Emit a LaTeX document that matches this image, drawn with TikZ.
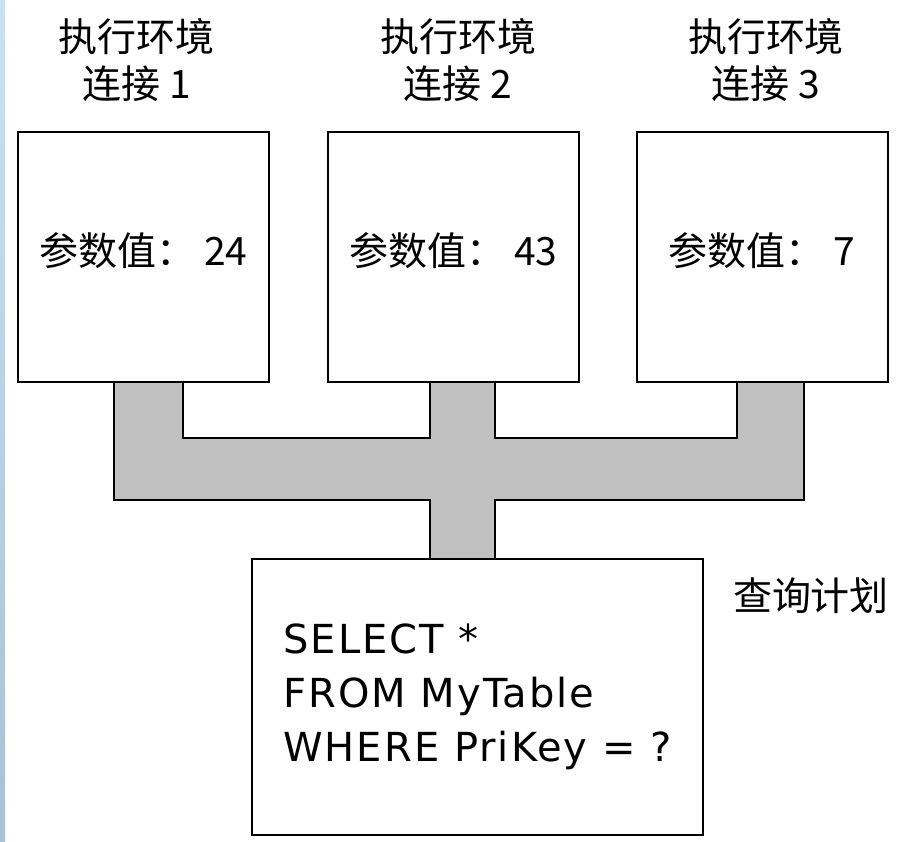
\documentclass[tikz,border=0pt]{standalone}
\usepackage{fontspec}
\setmainfont{DejaVu Sans}
\newfontfamily\cjk{Noto Sans CJK SC}
\newfontfamily\sqlfont{DejaVu Sans}[LetterSpace=5]
\usepackage{tikz}
\usetikzlibrary{calc,positioning}
\definecolor{pipegray}{HTML}{C0C0C0}
\definecolor{edgetop}{HTML}{C8E2F4}
\definecolor{edgebot}{HTML}{A6C2D8}

\begin{document}
\begin{tikzpicture}[
  x=0.5pt, y=-0.5pt,
  ctxbox/.style={rectangle, draw, line width=1pt, fill=white, outer sep=0pt,
    minimum width=125.5pt, minimum height=125pt, text depth=8pt,
    font=\cjk\fontsize{19.5}{23}\selectfont},
  planbox/.style={rectangle, draw, line width=1pt, fill=white, outer sep=0pt,
    minimum width=225.5pt, minimum height=138pt, align=left, inner sep=0pt,
    font=\sqlfont\fontsize{20}{27}\selectfont},
  header/.style={align=center, inner sep=0pt, font=\cjk\fontsize{19.5}{23.5}\selectfont},
  pipe/.style={draw, line width=1pt, fill=pipegray, line join=miter}
]
  \useasboundingbox (0,0) rectangle (918,842);
  \fill[white] (0,0) rectangle (918,842);
  \shade[top color=edgetop, bottom color=edgebot] (0,0) rectangle (5,842);

  \node[header] (hdr1) at (137,60)  {执行环境\\连接 1};
  \node[header] (hdr2) at (458,60)  {执行环境\\连接 2};
  \node[header] (hdr3) at (766,60)  {执行环境\\连接 3};

  \node[ctxbox] (ctx1) at (143.5,257) {参数值： 24};
  \node[ctxbox] (ctx2) at (453.5,257) {参数值： 43};
  \node[ctxbox] (ctx3) at (762,257)   {参数值： 7};

  \node[planbox] (plan) at (477.5,697) {SELECT *\\FROM MyTable\\WHERE PriKey = ?};
  \node[header] (plantitle) at (811,596) {查询计划};

  \draw[pipe] ($(ctx1.south west)+(96,0)$) |- ($(plan.north west)+(178,-59)$)
    -- ($(plan.north west)+(178,0)$) -| ($(plan.north west)+(243,-59)$)
    -| ($(ctx3.south west)+(167,0)$) -- ($(ctx3.south west)+(100,0)$)
    |- ($(ctx2.south west)+(167,56)$) -- ($(ctx2.south west)+(167,0)$)
    -- ($(ctx2.south west)+(102,0)$) |- ($(ctx1.south west)+(165,56)$)
    -- ($(ctx1.south west)+(165,0)$) -- cycle;
\end{tikzpicture}
\end{document}
